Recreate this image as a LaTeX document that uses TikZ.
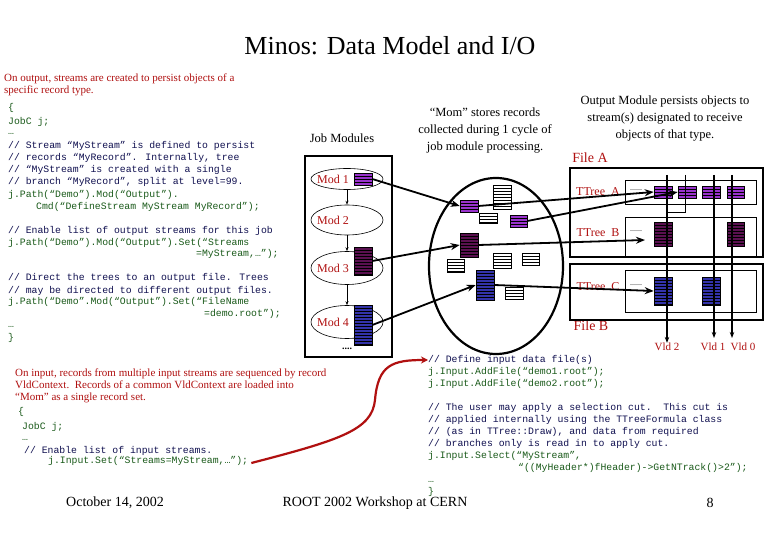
\documentclass[tikz,border=0pt]{standalone}
\usepackage{fontspec}
\setmainfont{Liberation Serif}
\newfontfamily\cmono{Liberation Mono}
\usetikzlibrary{arrows.meta,shapes.geometric}
\definecolor{rpur}{HTML}{9933CC}
\definecolor{rdpur}{HTML}{5A1050}
\definecolor{rblue}{HTML}{3333AA}
\definecolor{redt}{HTML}{B01010}
\definecolor{codeg}{HTML}{1A5A1A}
\definecolor{cmtb}{HTML}{101050}
\newcommand\recb[6]{%
  \pgfmathsetmacro\rw{#3-#1}\pgfmathsetmacro\rh{#4-#2}%
  \node[draw=black,fill=#5,inner sep=0,minimum width=\rw pt,minimum height=\rh pt,line width=0.6pt] (#6) at ({(#1+#3)/2},{(#2+#4)/2}) {};
  \pgfmathtruncatemacro\nn{(#4-#2)/3-0.01}%
  \foreach \i in {1,...,\nn}{\draw[line width=0.5pt] (#1,#2+3*\i) -- (#3,#2+3*\i);}%
}
\begin{document}
\begin{tikzpicture}[x=1pt,y=-1pt,
  ar/.style={line width=1.8pt,-{Stealth[length=9pt,width=7pt]}},
  code/.style={anchor=west,inner sep=0,text=codeg,font=\cmono\fontsize{9.8}{10}\selectfont},
  cmt/.style={anchor=west,inner sep=0,text=cmtb,font=\cmono\fontsize{9.8}{10}\selectfont},
  redtx/.style={anchor=north west,inner sep=0,text=redt,font=\fontsize{11}{12}\selectfont,align=left},
  mtx/.style={inner sep=0,font=\fontsize{12.5}{17}\selectfont,align=center},
  modl/.style={ellipse,draw,line width=0.6pt,inner sep=0,minimum width=72pt},
  mlab/.style={inner sep=0,text=redt,font=\fontsize{12}{14}\selectfont}]
\useasboundingbox (0,0) rectangle (780,540);
\fill[white] (0,0) rectangle (780,540);
% title
\node[inner sep=0,font=\fontsize{26}{30}\selectfont] (title) at (390,46) {Minos: Data Model and I/O};
% left top
\node[redtx] (lt) at (4,74) {On output, streams are created to persist objects of a\\specific record type.};
\node[code] (c1) at (8,108) {\{};
\node[code] (c2) at (8,122) {JobC j;};
\node[code] (c3) at (8,134) {…};
\node[cmt] (c4) at (8,146) {// Stream “MyStream” is defined to persist};
\node[cmt] (c5) at (8,158) {// records “MyRecord”. Internally, tree};
\node[cmt] (c6) at (8,170) {// “MyStream” is created with a single};
\node[cmt] (c7) at (8,182) {// branch “MyRecord”, split at level=99.};
\node[code] (c8) at (8,195) {j.Path(“Demo”).Mod(“Output”).};
\node[code] (c9) at (36,207) {Cmd(“DefineStream MyStream MyRecord”);};
\node[cmt] (c10) at (8,231) {// Enable list of output streams for this job};
\node[code] (c11) at (8,243) {j.Path(“Demo”).Mod(“Output”).Set(“Streams};
\node[code] (c12) at (196,254) {=MyStream,…”);};
\node[cmt] (c13) at (8,278) {// Direct the trees to an output file. Trees};
\node[cmt] (c14) at (8,291) {// may be directed to different output files.};
\node[code] (c15) at (8,302) {j.Path(“Demo”.Mod(“Output”).Set(“FileName};
\node[code] (c16) at (204,314) {=demo.root”);};
\node[code] (c17) at (8,327) {…};
\node[code] (c18) at (8,338) {\}};
% job modules
\node[mtx] (jm) at (342,138) {Job Modules};
\draw[line width=2.2pt] (305,156) rectangle (392,357);
\node[modl,minimum height=21pt] (e1) at (347,179) {};
\node[modl,minimum height=30pt] (e2) at (347,220) {};
\node[modl,minimum height=33pt] (e3) at (347,268) {};
\node[modl,minimum height=33pt] (e4) at (347,322) {};
\node[mlab] (l1) at (333,179) {Mod 1};
\node[mlab] (l2) at (333,220) {Mod 2};
\node[mlab] (l3) at (333,268) {Mod 3};
\node[mlab] (l4) at (333,322) {Mod 4};
\foreach \a/\b in {e1/e2,e2/e3,e3/e4}{\draw[line width=1pt,-{Stealth[length=4pt]}] (\a) -- (\b);}
\node[inner sep=0,font=\bfseries\fontsize{10}{10}\selectfont] (dots) at (347,349) {....};
\recb{354}{173}{372}{185}{rpur}{m1}
\recb{354}{247}{372}{275}{rdpur}{m3}
\recb{354}{305}{372}{345}{rblue}{m4}
% Mom
\node[mtx] (momt) at (485,131) {“Mom” stores records\\collected during 1 cycle of\\job module processing.};
\node[ellipse,draw,line width=2.2pt,minimum width=134pt,minimum height=176pt,inner sep=0] (mom) at (496,266) {};
\recb{460}{200}{478}{212}{rpur}{p1}
\recb{493}{185}{511}{209}{white}{w1}
\recb{479}{213}{497}{223}{white}{w2}
\recb{510}{215}{527}{227}{rpur}{p2}
\recb{460}{233}{478}{257}{rdpur}{d1}
\recb{493}{253}{511}{268}{white}{w3}
\recb{522}{253}{539}{265}{white}{w4}
\recb{447}{259}{464}{272}{white}{w5}
\recb{476}{270}{494}{300}{rblue}{b1}
\recb{505}{287}{523}{299}{white}{w6}
% Output side
\node[mtx] (omt) at (665,119) {Output Module persists objects to\\stream(s) designated to receive\\objects of that type.};
\node[inner sep=0,text=redt,font=\fontsize{14}{14}\selectfont] (fa) at (590,158) {File A};
\node[inner sep=0,text=redt,font=\fontsize{14}{14}\selectfont] (fb) at (591,326) {File B};
\draw[line width=2.2pt] (570,168) rectangle (763,257);
\draw[line width=2.2pt] (570,264) rectangle (763,320);
\draw[line width=0.5pt] (625,180) rectangle (756,204);
\draw[line width=0.5pt] (625,217) rectangle (756,257);
\draw[line width=0.5pt] (625,270) rectangle (756,312);
\node[mlab] (ta) at (598,192) {TTree\ \ A};
\node[mlab] (tb) at (598,233) {TTree\ \ B};
\node[mlab] (tc) at (598,287) {TTree\ \ C};
\node[inner sep=0,font=\fontsize{8}{8}\selectfont] at (636,190) {......};
\node[inner sep=0,font=\fontsize{8}{8}\selectfont] at (636,231) {......};
\node[inner sep=0,font=\fontsize{8}{8}\selectfont] at (636,285) {......};
\recb{654}{186}{672}{198}{rpur}{a1}
\recb{678}{186}{696}{198}{rpur}{a2}
\recb{702}{186}{720}{198}{rpur}{a3}
\recb{727}{186}{744}{198}{rpur}{a4}
\recb{654}{222}{672}{246}{rdpur}{bb1}
\recb{727}{222}{744}{246}{rdpur}{bb2}
\recb{654}{277}{672}{305}{rblue}{cc1}
\recb{702}{277}{720}{305}{rblue}{cc2}
\node[mlab,font=\fontsize{11}{12}\selectfont] (v2) at (667,347) {Vld 2};
\node[mlab,font=\fontsize{11}{12}\selectfont] (v1) at (713,347) {Vld 1};
\node[mlab,font=\fontsize{11}{12}\selectfont] (v0) at (743,347) {Vld 0};
\coordinate (t2) at (667,175); \coordinate (t1) at (714,175); \coordinate (t0) at (732,175);
\draw[line width=1.2pt,-{Stealth[length=6pt]}] (t2) -- (v2.north);
\draw[line width=1.2pt,-{Stealth[length=6pt]}] (t1) -- (714,338);
\draw[line width=1.2pt,-{Stealth[length=6pt]}] (t0) -- (732,338);
\draw[line width=0.5pt] (685,175) -- (685,212) -- (667,212);
% arrows
\draw[ar] (m1.east) -- (p1.west);
\draw[ar] (m3.east) -- (d1.west);
\draw[ar] (m4.east) -- (b1.west);
\draw[ar] (p1.east) -- (a1.west);
\draw[ar] (p2.east) -- (a2.west);
\draw[ar] (d1.east) -- (645,240);
\draw[ar] (b1.east) -- (cc1.west);
% bottom left
\node[redtx,font=\fontsize{11}{12}\selectfont] (lb) at (15,369) {On input, records from multiple input streams are sequenced by\ record\\VldContext.\ \ Records of a common VldContext are loaded into\\“Mom” as a single record set.};
\node[code] (d1c) at (18,412) {\{};
\node[code] (d2c) at (22,427) {JobC j;};
\node[code] (d3c) at (22,440) {…};
\node[cmt] (d4c) at (24,451) {// Enable list of input streams.};
\node[code] (d5c) at (48,461) {j.Input.Set(“Streams=MyStream,…”);};
% right code
\node[cmt] (r1) at (428,360) {// Define input data file(s)};
\node[code] (r2) at (428,372) {j.Input.AddFile(“demo1.root”);};
\node[code] (r3) at (428,384) {j.Input.AddFile(“demo2.root”);};
\node[cmt] (r4) at (428,408) {// The user may apply a selection cut.\ \ This cut is};
\node[cmt] (r5) at (428,420) {// applied internally using the TTreeFormula class};
\node[cmt] (r6) at (428,432) {// (as in TTree::Draw), and data from required};
\node[cmt] (r7) at (428,444) {// branches only is read in to apply cut.};
\node[code] (r8) at (428,456) {j.Input.Select(“MyStream”,};
\node[code] (r9) at (518,468) {“((MyHeader*)fHeader)->GetNTrack()>2”);};
\node[code] (r10) at (428,482) {…};
\node[code] (r11) at (428,492) {\}};
\draw[redt,line width=2.2pt,-{Stealth[length=7pt,width=7pt]}] (d5c.east) ++(3,2) .. controls (340,440) and (372,430) .. (375,400) .. controls (378,365) and (392,360) .. (r1.west);
% footer
\node[inner sep=0,font=\fontsize{14}{16}\selectfont] (f1) at (115,503) {October 14, 2002};
\node[inner sep=0,font=\fontsize{14}{16}\selectfont] (f2) at (375,503) {ROOT 2002 Workshop at CERN};
\node[inner sep=0,font=\fontsize{14}{16}\selectfont] (f3) at (710,503) {8};
\end{tikzpicture}
\end{document}
